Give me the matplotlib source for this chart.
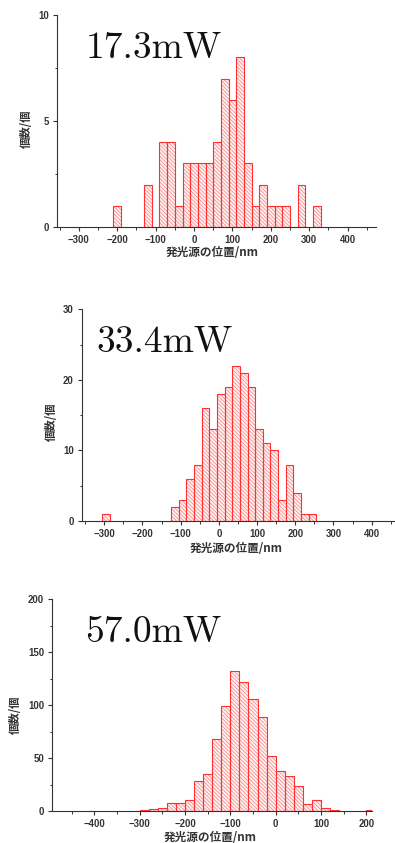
import matplotlib
matplotlib.use("Agg")
import matplotlib.pyplot as plt
from matplotlib.ticker import MultipleLocator

# ---- data ----
titles = ["17.3mW", "33.4mW", "57.0mW"]

p1_centers = [-200, -120, -80, -60, -40, -20, 0, 20, 40, 60, 80, 100, 120, 140, 160, 180, 200, 220, 240, 280, 320]
p1_counts = [1, 2, 4, 4, 1, 3, 3, 3, 3, 4, 7, 6, 8, 3, 1, 2, 1, 1, 1, 2, 1]

p2_centers = [-295, -115, -95, -75, -55, -35, -15, 5, 25, 45, 65, 85, 105, 125, 145, 165, 185, 205, 225, 245]
p2_counts = [1, 2, 3, 6, 8, 16, 13, 18, 19, 22, 21, 19, 13, 11, 10, 3, 8, 4, 1, 1]

p3_centers = [-290, -270, -250, -230, -210, -190, -170, -150, -130, -110, -90, -70, -50, -30, -10,
              10, 30, 50, 70, 90, 110, 130, 210]
p3_counts = [1, 2, 3, 8, 8, 10, 28, 35, 68, 99, 132, 122, 106, 89, 52, 38, 33, 24, 7, 10, 3, 1, 1]

xlabel = "発光源の位置/nm"
ylabel = "個数/個"

# ---- style ----
plt.rcParams['font.family'] = ['Noto Sans CJK JP', 'DejaVu Sans']
plt.rcParams['hatch.linewidth'] = 0.55
AX_COL = "#333333"
EDGE = "#ff3030"
HATCH = "#f08a8a"

W, H = 395, 843
fig = plt.figure(figsize=(W / 100, H / 100), dpi=100)


def px_axes(left, top, right, bottom):
    return fig.add_axes([left / W, 1 - bottom / H, (right - left) / W, (bottom - top) / H])


panels = [
    dict(rect=(57, 15, 376, 227), xlim=(-357, 474), ylim=(0, 10), ymaj=5, ymin=2.5,
         xticks=[-300, -200, -100, 0, 100, 200, 300, 400],
         centers=p1_centers, counts=p1_counts, title=titles[0], tpos=(0.091, 0.797),
         ylab=(-0.097, 0.462), xlab=(0.486, -0.122)),
    dict(rect=(81.7, 309.3, 395, 521), xlim=(-359, 461), ylim=(0, 30), ymaj=10, ymin=5,
         xticks=[-300, -200, -100, 0, 100, 200, 300, 400],
         centers=p2_centers, counts=p2_counts, title=titles[1], tpos=(0.048, 0.797),
         ylab=(-0.096, 0.468), xlab=(0.4925, -0.128)),
    dict(rect=(52.3, 599, 371.7, 811), xlim=(-493, 212), ylim=(0, 200), ymaj=50, ymin=25,
         xticks=[-400, -300, -200, -100, 0, 100, 200],
         centers=p3_centers, counts=p3_counts, title=titles[2], tpos=(0.102, 0.799),
         ylab=(-0.117, 0.453), xlab=(0.494, -0.127)),
]

for p in panels:
    ax = px_axes(*p["rect"])
    ax.bar(p["centers"], p["counts"], width=20, facecolor="#fff2f2", edgecolor=HATCH,
           linewidth=0, hatch="\\" * 9, zorder=2)
    ax.bar(p["centers"], p["counts"], width=20, facecolor="none", edgecolor=EDGE,
           linewidth=0.8, zorder=3)
    ax.set_xlim(*p["xlim"])
    ax.set_ylim(*p["ylim"])
    ax.set_xticks(p["xticks"])
    ax.xaxis.set_minor_locator(MultipleLocator(50))
    ax.yaxis.set_major_locator(MultipleLocator(p["ymaj"]))
    ax.yaxis.set_minor_locator(MultipleLocator(p["ymin"]))
    for s in ["top", "right"]:
        ax.spines[s].set_visible(False)
    for s in ["left", "bottom"]:
        ax.spines[s].set_color(AX_COL)
        ax.spines[s].set_linewidth(0.8)
    ax.tick_params(which="major", direction="out", length=2.8, width=0.8, color=AX_COL,
                   labelsize=6.9, labelcolor="#333333", pad=3)
    ax.tick_params(which="minor", direction="out", length=1.8, width=0.7, color=AX_COL)
    for lab in ax.get_xticklabels() + ax.get_yticklabels():
        lab.set_fontfamily(["Liberation Sans", "DejaVu Sans"])
        lab.set_fontweight("bold")
    ax.set_xlabel(xlabel, fontsize=8.4, fontweight="bold", color="#333333")
    ax.set_ylabel(ylabel, fontsize=8.2, fontweight="bold", color="#333333")
    ax.xaxis.set_label_coords(*p["xlab"])
    ax.yaxis.set_label_coords(*p["ylab"])
    ax.xaxis.label.set_verticalalignment("center")
    ax.yaxis.label.set_verticalalignment("center")
    ax.text(p["tpos"][0], p["tpos"][1], p["title"], transform=ax.transAxes,
            fontfamily="cmr10", fontsize=27, color="#111111", va="baseline", ha="left")
    ax.patch.set_alpha(0)

fig.savefig("out.png", dpi=100)
